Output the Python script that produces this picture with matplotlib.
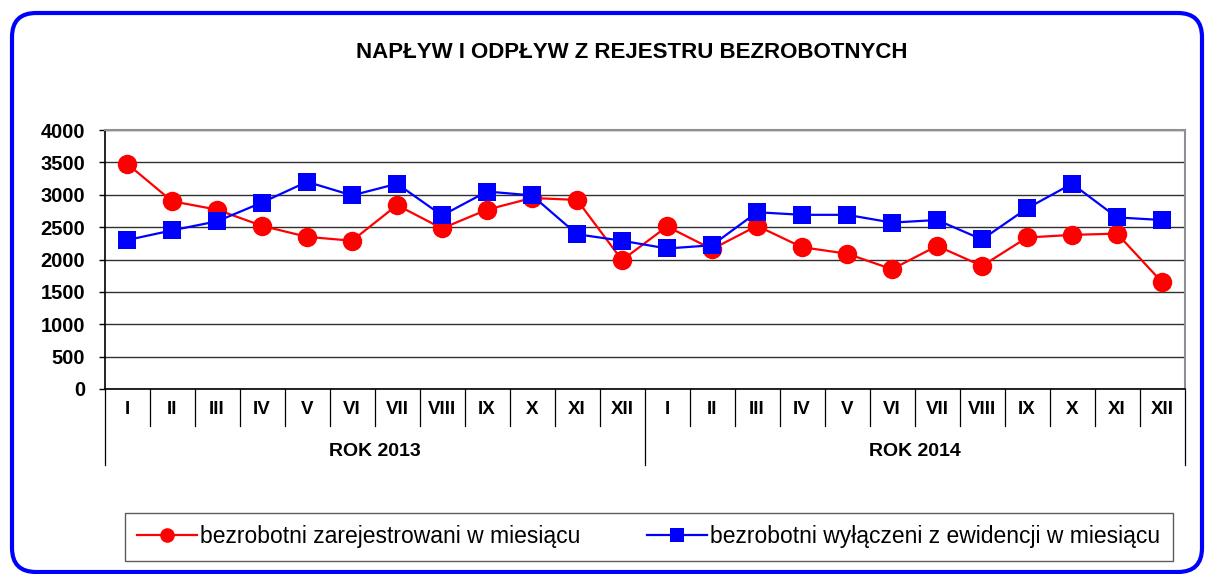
import numpy as np
import matplotlib.pyplot as plt
from matplotlib.patches import FancyBboxPatch
from matplotlib.lines import Line2D
import matplotlib.transforms as mtransforms

# datas
months = ["I", "II", "III", "IV", "V", "VI", "VII", "VIII", "IX", "X", "XI", "XII"]
years = ["ROK 2013", "ROK 2014"]
registered = [3480, 2900, 2770, 2520, 2350, 2290, 2840, 2480, 2770, 2950, 2920, 1990,
              2510, 2160, 2520, 2190, 2090, 1850, 2210, 1900, 2340, 2380, 2400, 1650]
removed = [2300, 2450, 2590, 2880, 3200, 2990, 3170, 2680, 3050, 2990, 2390, 2290,
           2170, 2220, 2730, 2690, 2690, 2570, 2610, 2310, 2790, 3170, 2650, 2610]
title = "NAPŁYW I ODPŁYW Z REJESTRU BEZROBOTNYCH"
label_reg = "bezrobotni zarejestrowani w miesiącu"
label_rem = "bezrobotni wyłączeni z ewidencji w miesiącu"

plt.rcParams["font.family"] = ["Liberation Sans", "DejaVu Sans"]


def main():

    # create a figure
    fig = plt.figure(figsize=(12.06, 5.74), dpi=100)
    ax = fig.add_axes([0.0867, 0.3223, 0.8955, 0.4512])

    # blue rounded frame around the whole chart
    frame = FancyBboxPatch((12 / 1206, 1 - 572 / 574), 1190 / 1206, 559 / 574,
                           boxstyle="round,pad=0,rounding_size=0.02",
                           transform=fig.transFigure, facecolor="none",
                           edgecolor="#0000ff", linewidth=3.0, mutation_aspect=2.1)
    fig.patches.append(frame)

    # title
    fig.text(0.524, 1 - 53 / 574, title, ha="center", va="center",
             fontsize=16, fontweight="bold")

    x = np.arange(len(registered))

    # plot datas
    ax.plot(x, registered, color="#ff0000", linewidth=1.6, marker="o",
            markersize=14, markeredgewidth=0, label=label_reg, zorder=3)
    ax.plot(x, removed, color="#0000ff", linewidth=1.6, marker="s",
            markersize=13, markeredgewidth=0, label=label_rem, zorder=4)

    # limits and scales
    ax.set_xlim(-0.5, len(registered) - 0.5)
    ax.set_ylim(0, 4000)
    ax.set_yticks(np.arange(0, 4001, 500))
    ax.set_xticks([])
    ax.tick_params(axis="y", direction="out", length=4, width=1, pad=10,
                   labelsize=14.5)
    for t in ax.get_yticklabels():
        t.set_fontweight("bold")

    # grid lines
    ax.grid(axis="y", color="#303030", linewidth=1.0)
    ax.set_axisbelow(True)

    # spines
    ax.spines["left"].set_color("black")
    ax.spines["bottom"].set_color("black")
    ax.spines["left"].set_linewidth(1.2)
    ax.spines["bottom"].set_linewidth(1.2)
    ax.spines["top"].set_color("#909090")
    ax.spines["right"].set_color("#909090")
    ax.spines["top"].set_linewidth(1.5)
    ax.spines["right"].set_linewidth(1.5)

    # two level category axis
    trans = mtransforms.blended_transform_factory(ax.transData, ax.transAxes)
    n = len(registered)
    for i in range(n + 1):
        edge = i - 0.5
        low = -0.293 if i % 12 == 0 else -0.143
        ax.add_line(Line2D([edge, edge], [0, low], transform=trans,
                           color="black", linewidth=0.9, clip_on=False))
    for i in range(n):
        ax.text(i, -0.081, months[i % 12], transform=trans, ha="center",
                va="center", fontsize=13.5, fontweight="bold")
    for j, year in enumerate(years):
        ax.text(j * 12 + 5.5, -0.243, year, transform=trans, ha="center",
                va="center", fontsize=14, fontweight="bold")

    # legend
    leg = fig.legend(loc="center", bbox_to_anchor=(0.538, 1 - 537 / 574),
                     ncol=2, frameon=True, fancybox=False,
                     edgecolor="#333333", handlelength=2.6, handletextpad=0.15,
                     columnspacing=2.9, borderpad=0.55, markerscale=0.75,
                     prop={"size": 16.5})
    leg.get_frame().set_linewidth(1.0)

    fig.savefig("out.png", dpi=100)


if __name__ == "__main__": main()
